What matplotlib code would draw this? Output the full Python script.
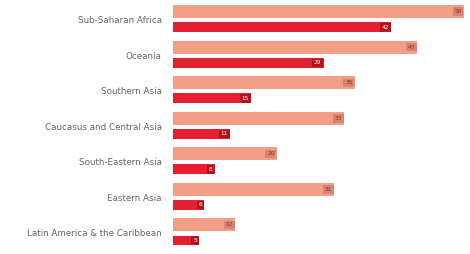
import matplotlib
matplotlib.use("Agg")
import matplotlib.pyplot as plt
import numpy as np

regions = ["Sub-Saharan Africa", "Oceania", "Southern Asia",
           "Caucasus and Central Asia", "South-Eastern Asia",
           "Eastern Asia", "Latin America & the Caribbean"]
light_vals = [56, 47, 35, 33, 20, 31, 12]
dark_vals = [42, 29, 15, 11, 8, 6, 5]

light_col = "#F39E87"
dark_col = "#E3202F"

fig = plt.figure(figsize=(4.7, 2.54), dpi=100)
ax = fig.add_axes([0.368, 0.0, 0.632, 1.0])

y = np.arange(len(regions))
off = 0.22
ax.barh(y - off, light_vals, height=0.36, color=light_col)
ax.barh(y + off, dark_vals, height=0.28, color=dark_col)

# value labels sitting at the end of each bar
for yi, v in zip(y, light_vals):
    ax.text(v - 0.4, yi - off, str(v), ha="right", va="center", fontsize=4.2,
            color="#7a3a2a",
            bbox=dict(boxstyle="square,pad=0.3", fc="#D98470", ec="none"))
for yi, v in zip(y, dark_vals):
    ax.text(v - 0.4, yi + off, str(v), ha="right", va="center", fontsize=4.2,
            color="white",
            bbox=dict(boxstyle="square,pad=0.3", fc="#B8101E", ec="none"))

ax.set_yticks(y)
ax.set_yticklabels(regions, fontsize=6.3, color="#666666")
ax.tick_params(axis="y", length=0, pad=8)
ax.set_xticks([])
for s in ax.spines.values():
    s.set_visible(False)

ax.set_xlim(0, 57.2)
ax.set_ylim(6.6, -0.55)

plt.savefig("out.png", dpi=100)
